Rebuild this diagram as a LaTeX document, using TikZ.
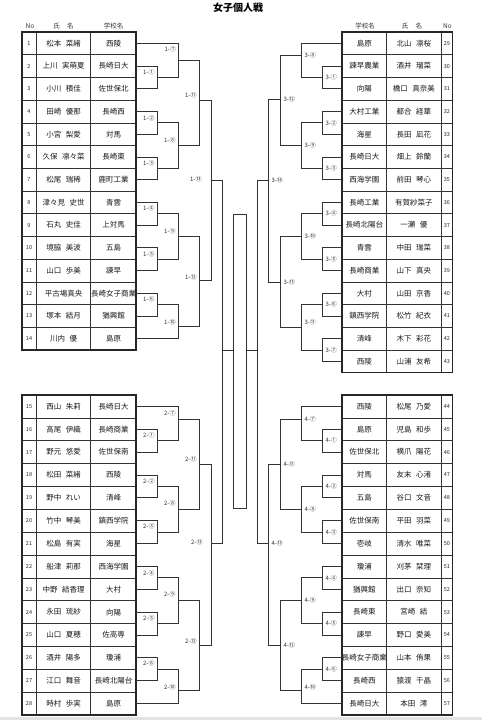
\documentclass[tikz,border=0pt]{standalone}
\usepackage{fontspec}
\setmainfont{Noto Sans CJK JP}
\newcommand\nsp{\hspace{0.6em}}
\begin{document}
\begin{tikzpicture}[x=1pt,y=-1pt,
  br/.style={line width=0.85pt, draw=black!80},
  tblout/.style={line width=1.1pt, draw=black!85},
  tblin/.style={line width=0.7pt, draw=black!80},
  lbl/.style={font=\fontsize{6}{7}\selectfont, inner sep=0.3pt, text=black!80},
  cellt/.style={font=\fontsize{7.5}{8}\selectfont, inner sep=0pt, text=black!90},
  numt/.style={font=\fontsize{5.5}{6}\selectfont, inner sep=0pt, text=black!85},
  hdr/.style={font=\fontsize{6.5}{7}\selectfont, inner sep=0pt, text=black!80}]
\useasboundingbox (0,0) rectangle (482,720);
\fill[gray!22] (0,716.8) rectangle (482,720);

% title
\node[font=\bfseries\fontsize{10}{12}\selectfont, inner sep=0pt] (title) at (238,7.5) {女子個人戦};

% headers
\node[hdr] (hNoL) at (30,26) {No};
\node[hdr] (hNmL) at (63.5,26) {氏\hspace{1.1em}名};
\node[hdr] (hScL) at (113.5,26) {学校名};
\node[hdr] (hScR) at (365,26) {学校名};
\node[hdr] (hNmR) at (412,26) {氏\hspace{1.1em}名};
\node[hdr] (hNoR) at (447.5,26) {No};

% ---------- tables ----------
% left top
\foreach \k in {1,...,13} \draw[tblin] (22,{32+\k*22.714}) -- (136,{32+\k*22.714});
\draw[tblin] (36,32) -- (36,350); \draw[tblin] (90.7,32) -- (90.7,350);
\draw[tblout] (22,32) rectangle (136,350);
\foreach \no/\nm/\sc [count=\i] in {1/松本\nsp 菜緒/西陵, 2/上川\nsp 実萌夏/長崎日大, 3/小川\nsp 積佳/佐世保北, 4/田崎\nsp 優那/長崎西, 5/小宮\nsp 梨愛/対馬, 6/久保\nsp 凛々菜/長崎東, 7/松尾\nsp 瑞稀/鹿町工業, 8/津々見\nsp 史世/青雲, 9/石丸\nsp 史佳/上対馬, 10/境脇\nsp 美波/五島, 11/山口\nsp 歩美/諫早, 12/平古場真央/長崎女子商業, 13/塚本\nsp 結月/猶興館, 14/川内\nsp 優/島原}{
  \pgfmathsetmacro\yc{32+(\i-0.5)*22.714}
  \node[numt] (no\no) at (29,\yc) {\no};
  \node[cellt] (nm\no) at (63.5,\yc) {\nm};
  \node[cellt] (sc\no) at (113.5,\yc) {\sc};
  \coordinate (p\no) at (136,\yc);
}
% left bottom
\foreach \k in {1,...,13} \draw[tblin] (22,{395+\k*22.857}) -- (136,{395+\k*22.857});
\draw[tblin] (36,395) -- (36,715); \draw[tblin] (90.7,395) -- (90.7,715);
\draw[tblout] (22,395) rectangle (136,715);
\foreach \no/\nm/\sc [count=\i] in {15/西山\nsp 朱莉/長崎日大, 16/高尾\nsp 伊織/長崎商業, 17/野元\nsp 悠愛/佐世保南, 18/松田\nsp 菜緒/西陵, 19/野中\nsp れい/清峰, 20/竹中\nsp 琴美/鎮西学院, 21/松島\nsp 有実/海星, 22/船津\nsp 莉那/西海学園, 23/中野\nsp 結香理/大村, 24/永田\nsp 琉紗/向陽, 25/山口\nsp 夏穂/佐高専, 26/酒井\nsp 陽多/瓊浦, 27/江口\nsp 舞音/長崎北陽台, 28/時村\nsp 歩実/島原}{
  \pgfmathsetmacro\yc{395+(\i-0.5)*22.857}
  \node[numt] (no\no) at (29,\yc) {\no};
  \node[cellt] (nm\no) at (63.5,\yc) {\nm};
  \node[cellt] (sc\no) at (113.5,\yc) {\sc};
  \coordinate (p\no) at (136,\yc);
}
% right top
\foreach \k in {1,...,14} \draw[tblin] (342,{32+\k*22.714}) -- (452.7,{32+\k*22.714});
\draw[tblin] (386.7,32) -- (386.7,372.7); \draw[tblin] (441,32) -- (441,372.7);
\draw[tblout] (342,32) rectangle (452.7,372.7);
\foreach \no/\sc/\nm [count=\i] in {29/島原/北山\nsp 凛桜, 30/諫早農業/酒井\nsp 瑠菜, 31/向陽/橋口\nsp 真奈美, 32/大村工業/都合\nsp 経華, 33/海星/長田\nsp 凪花, 34/長崎日大/畑上\nsp 鈴蘭, 35/西海学園/前田\nsp 琴心, 36/長崎工業/有賀紗菜子, 37/長崎北陽台/一瀬\nsp 優, 38/青雲/中田\nsp 瑞菜, 39/長崎商業/山下\nsp 真央, 40/大村/山田\nsp 京香, 41/鎮西学院/松竹\nsp 紀衣, 42/清峰/木下\nsp 彩花, 43/西陵/山浦\nsp 友希}{
  \pgfmathsetmacro\yc{32+(\i-0.5)*22.714}
  \node[numt] (no\no) at (446.9,\yc) {\no};
  \node[cellt] (nm\no) at (413.8,\yc) {\nm};
  \node[cellt] (sc\no) at (364.3,\yc) {\sc};
  \coordinate (p\no) at (342,\yc);
}
% right bottom
\foreach \k in {1,...,13} \draw[tblin] (342,{395+\k*22.857}) -- (452.7,{395+\k*22.857});
\draw[tblin] (386.7,395) -- (386.7,715); \draw[tblin] (441,395) -- (441,715);
\draw[tblout] (342,395) rectangle (452.7,715);
\foreach \no/\sc/\nm [count=\i] in {44/西陵/松尾\nsp 乃愛, 45/島原/児島\nsp 和歩, 46/佐世保北/横爪\nsp 陽花, 47/対馬/友末\nsp 心渚, 48/五島/谷口\nsp 文音, 49/佐世保南/平田\nsp 羽菜, 50/壱岐/清水\nsp 唯菜, 51/瓊浦/刈茅\nsp 栞理, 52/猶興館/出口\nsp 奈知, 53/長崎東/宮崎\nsp 結, 54/諫早/野口\nsp 愛美, 55/長崎女子商業/山本\nsp 侑果, 56/長崎西/猿渡\nsp 千晶, 57/長崎日大/本田\nsp 澪}{
  \pgfmathsetmacro\yc{395+(\i-0.5)*22.857}
  \node[numt] (no\no) at (446.9,\yc) {\no};
  \node[cellt] (nm\no) at (413.8,\yc) {\nm};
  \node[cellt] (sc\no) at (364.3,\yc) {\sc};
  \coordinate (p\no) at (342,\yc);
}

% ---------- match points (vertical x, output y) ----------
% left top
\coordinate (a1) at (157,77.4);  \coordinate (a2) at (157,122.8);
\coordinate (a3) at (157,168.3); \coordinate (a4) at (157,213.7);
\coordinate (a5) at (157,259.1); \coordinate (a6) at (157,304.5);
\coordinate (a7) at (178,60);    \coordinate (a8) at (178,145.5);
\coordinate (a9) at (178,236.4); \coordinate (a10) at (178,326);
\coordinate (a11) at (199,100);  \coordinate (a12) at (199,280);
\coordinate (a13) at (211,180);
% left bottom
\coordinate (b1) at (157,440.7); \coordinate (b2) at (157,486.4);
\coordinate (b3) at (157,532.1); \coordinate (b4) at (157,577.9);
\coordinate (b5) at (157,623.6); \coordinate (b6) at (157,669.3);
\coordinate (b7) at (178,419);   \coordinate (b8) at (178,509.3);
\coordinate (b9) at (178,600.7); \coordinate (b10) at (178,690);
\coordinate (b11) at (199,464);  \coordinate (b12) at (199,645);
\coordinate (b13) at (211,543);
% right top
\coordinate (c1) at (322,77.4);  \coordinate (c2) at (322,122.8);
\coordinate (c3) at (322,168.3); \coordinate (c4) at (322,213.7);
\coordinate (c5) at (322,259.1); \coordinate (c6) at (322,304.5);
\coordinate (c7) at (322,350);
\coordinate (c8) at (301,55);    \coordinate (c9) at (301,145.5);
\coordinate (c10) at (301,236.4);\coordinate (c11) at (301,327);
\coordinate (c12) at (280,99);   \coordinate (c13) at (280,282);
\coordinate (c14) at (268,180);
% right bottom
\coordinate (d1) at (322,440.7); \coordinate (d2) at (322,486.4);
\coordinate (d3) at (322,532.1); \coordinate (d4) at (322,577.9);
\coordinate (d5) at (322,623.6); \coordinate (d6) at (322,669.3);
\coordinate (d7) at (301,419);   \coordinate (d8) at (301,509.3);
\coordinate (d9) at (301,600.7); \coordinate (d10) at (301,690);
\coordinate (d11) at (280,464);  \coordinate (d12) at (280,645);
\coordinate (d13) at (268,543);
% semis and final
\coordinate (SL) at (222,350);
\coordinate (SR) at (257,350);
\node[draw=black!80, line width=0.85pt, minimum width=12.7pt, minimum height=294pt, inner sep=0pt] (final) at (239.65,361) {};

% ---------- connectors ----------
\foreach \s/\t in {p2/a1,p3/a1,p4/a2,p5/a2,p6/a3,p7/a3,p8/a4,p9/a4,p10/a5,p11/a5,p12/a6,p13/a6,
  p1/a7,a1/a7,a2/a8,a3/a8,a4/a9,a5/a9,a6/a10,p14/a10,a7/a11,a8/a11,a9/a12,a10/a12,a11/a13,a12/a13,
  p16/b1,p17/b1,p18/b2,p19/b2,p20/b3,p21/b3,p22/b4,p23/b4,p24/b5,p25/b5,p26/b6,p27/b6,
  p15/b7,b1/b7,b2/b8,b3/b8,b4/b9,b5/b9,b6/b10,p28/b10,b7/b11,b8/b11,b9/b12,b10/b12,b11/b13,b12/b13,
  p30/c1,p31/c1,p32/c2,p33/c2,p34/c3,p35/c3,p36/c4,p37/c4,p38/c5,p39/c5,p40/c6,p41/c6,p42/c7,p43/c7,
  p29/c8,c1/c8,c2/c9,c3/c9,c4/c10,c5/c10,c6/c11,c7/c11,c8/c12,c9/c12,c10/c13,c11/c13,c12/c14,c13/c14,
  p45/d1,p46/d1,p47/d2,p48/d2,p49/d3,p50/d3,p51/d4,p52/d4,p53/d5,p54/d5,p55/d6,p56/d6,
  p44/d7,d1/d7,d2/d8,d3/d8,d4/d9,d5/d9,d6/d10,p57/d10,d7/d11,d8/d11,d9/d12,d10/d12,d11/d13,d12/d13,
  a13/SL,b13/SL,c14/SR,d13/SR}
  \draw[br] (\s) -| (\t);
\draw[br] (SL) -- (final.west |- SL);
\draw[br] (SR) -- (final.east |- SR);

% ---------- labels ----------
\foreach \m/\t/\dx/\dy in {a1/1-①/-2/-5, a2/1-②/-2/-5, a3/1-③/-2/-5, a4/1-④/-2/-5, a5/1-⑤/-2/-5, a6/1-⑥/-2/-5,
  a7/1-⑦/-1.5/-11, a8/1-⑧/-2/-5, a9/1-⑨/-2/-5, a10/1-⑩/-2/-4, a11/1-⑪/-2/-5, a12/1-⑫/-2/-3, a13/1-⑬/-9/-1,
  b1/2-①/-2/-5, b2/2-②/-2/-5, b3/2-③/-2/-6, b4/2-④/-2/-5, b5/2-⑤/-2/-5, b6/2-⑥/-2/-6,
  b7/2-⑦/-2/-6, b8/2-⑧/-2/-6, b9/2-⑨/-2/-6, b10/2-⑩/-2/-3, b11/2-⑪/-2/-5, b12/2-⑫/-2/-4, b13/2-⑬/-8/-1}
  \node[lbl, anchor=east] (t\m) at ([shift={(\dx,\dy)}]\m) {\t};
\foreach \m/\t/\dy in {c1/3-①/0, c2/3-②/0, c3/3-③/0, c4/3-④/0, c5/3-⑤/0, c6/3-⑥/0, c7/3-⑦/0,
  c8/3-⑧/0, c9/3-⑨/0, c10/3-⑩/0, c11/3-⑪/-5, c12/3-⑫/0, c13/3-⑬/0, c14/3-⑭/0,
  d1/4-①/0, d2/4-②/0, d3/4-③/0, d4/4-④/0, d5/4-⑤/0, d6/4-⑥/0,
  d7/4-⑦/0, d8/4-⑧/0, d9/4-⑨/0, d10/4-⑩/-3, d11/4-⑪/0, d12/4-⑫/0, d13/4-⑬/0}
  \node[lbl, anchor=west] (t\m) at ([shift={(3,\dy)}]\m) {\t};
\end{tikzpicture}
\end{document}
